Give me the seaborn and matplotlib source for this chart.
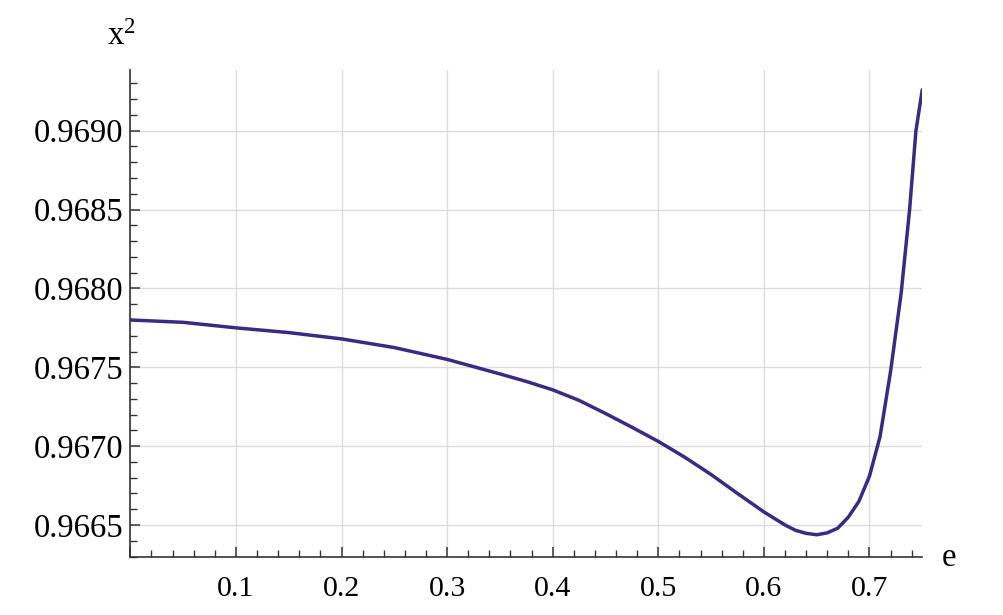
import matplotlib
matplotlib.use("Agg")
import matplotlib.pyplot as plt
import matplotlib.ticker as mticker
import pandas as pd
import seaborn as sns

# eccentricity grid and the x^2 curve
e_vals = [0.0, 0.05, 0.1, 0.15, 0.2, 0.25, 0.3, 0.35, 0.375, 0.4, 0.425,
          0.45, 0.475, 0.5, 0.525, 0.55, 0.575, 0.6, 0.62, 0.63, 0.64, 0.65,
          0.66, 0.67, 0.68, 0.69, 0.70, 0.71, 0.72, 0.73, 0.738, 0.744, 0.75]
x2_vals = [0.96780, 0.967785, 0.96775, 0.96772, 0.96768, 0.967625, 0.96755,
           0.967458, 0.96741, 0.967357, 0.96729, 0.967207, 0.96712, 0.96703,
           0.96693, 0.96682, 0.96670, 0.966583, 0.96650, 0.966466, 0.966447,
           0.966438, 0.96645, 0.96648, 0.96655, 0.96665, 0.96681, 0.96706,
           0.967475, 0.96797, 0.96850, 0.96900, 0.96926]

x_ticks = [0.1, 0.2, 0.3, 0.4, 0.5, 0.6, 0.7]
y_ticks = [0.9665, 0.9670, 0.9675, 0.9680, 0.9685, 0.9690]

df = pd.DataFrame({"e": e_vals, "x2": x2_vals})

sns.set_style("white")
plt.rcParams["font.family"] = ["Liberation Serif", "DejaVu Serif"]
plt.rcParams["mathtext.fontset"] = "custom"
plt.rcParams["mathtext.rm"] = "Liberation Serif"
plt.rcParams["mathtext.it"] = "Liberation Serif:italic"
plt.rcParams["text.color"] = "black"
plt.rcParams["xtick.color"] = "black"
plt.rcParams["ytick.color"] = "black"

fig = plt.figure(figsize=(10.04, 6.15), dpi=100)
ax = fig.add_axes([0.1298, 0.0943, 0.7888, 0.7919])

sns.lineplot(data=df, x="e", y="x2", color="#3b2a84", linewidth=2.5, ax=ax)

ax.set_xlim(0, 0.75)
ax.set_ylim(0.966297, 0.969385)

ax.xaxis.set_major_locator(mticker.FixedLocator([0.0] + x_ticks))
ax.xaxis.set_minor_locator(mticker.MultipleLocator(0.02))
ax.yaxis.set_major_locator(mticker.FixedLocator(y_ticks))
ax.yaxis.set_minor_locator(mticker.MultipleLocator(0.0001))
ax.xaxis.set_major_formatter(
    mticker.FuncFormatter(lambda v, p: "" if abs(v) < 1e-9 else f"{v:.1f}"))
ax.yaxis.set_major_formatter(mticker.FuncFormatter(lambda v, p: f"{v:.4f}"))

for s in ["top", "right"]:
    ax.spines[s].set_visible(False)
for s in ["left", "bottom"]:
    ax.spines[s].set_color("#333333")
    ax.spines[s].set_linewidth(1.2)

ax.tick_params(which="both", direction="in", bottom=True, left=True,
               top=False, right=False, color="#333333")
ax.tick_params(which="major", length=7, width=1.1)
ax.tick_params(which="minor", length=5, width=1.0)
ax.tick_params(axis="x", which="major", labelsize=21.5, pad=14,
               labelcolor="black")
ax.tick_params(axis="y", which="major", labelsize=23.5, pad=5,
               labelcolor="black")

ax.grid(True, which="major", color="#dcdcdc", linewidth=1.0)
ax.set_axisbelow(True)
ax.set_xlabel("")
ax.set_ylabel("")

fig.text(107 / 1004, 1 - 45 / 615, r"x$^{\mathrm{2}}$", fontsize=23.5,
         ha="left", va="baseline")
fig.text(942 / 1004, 1 - 566 / 615, "e", fontsize=23.5, ha="left", va="baseline")

fig.savefig("out.png", dpi=100)
